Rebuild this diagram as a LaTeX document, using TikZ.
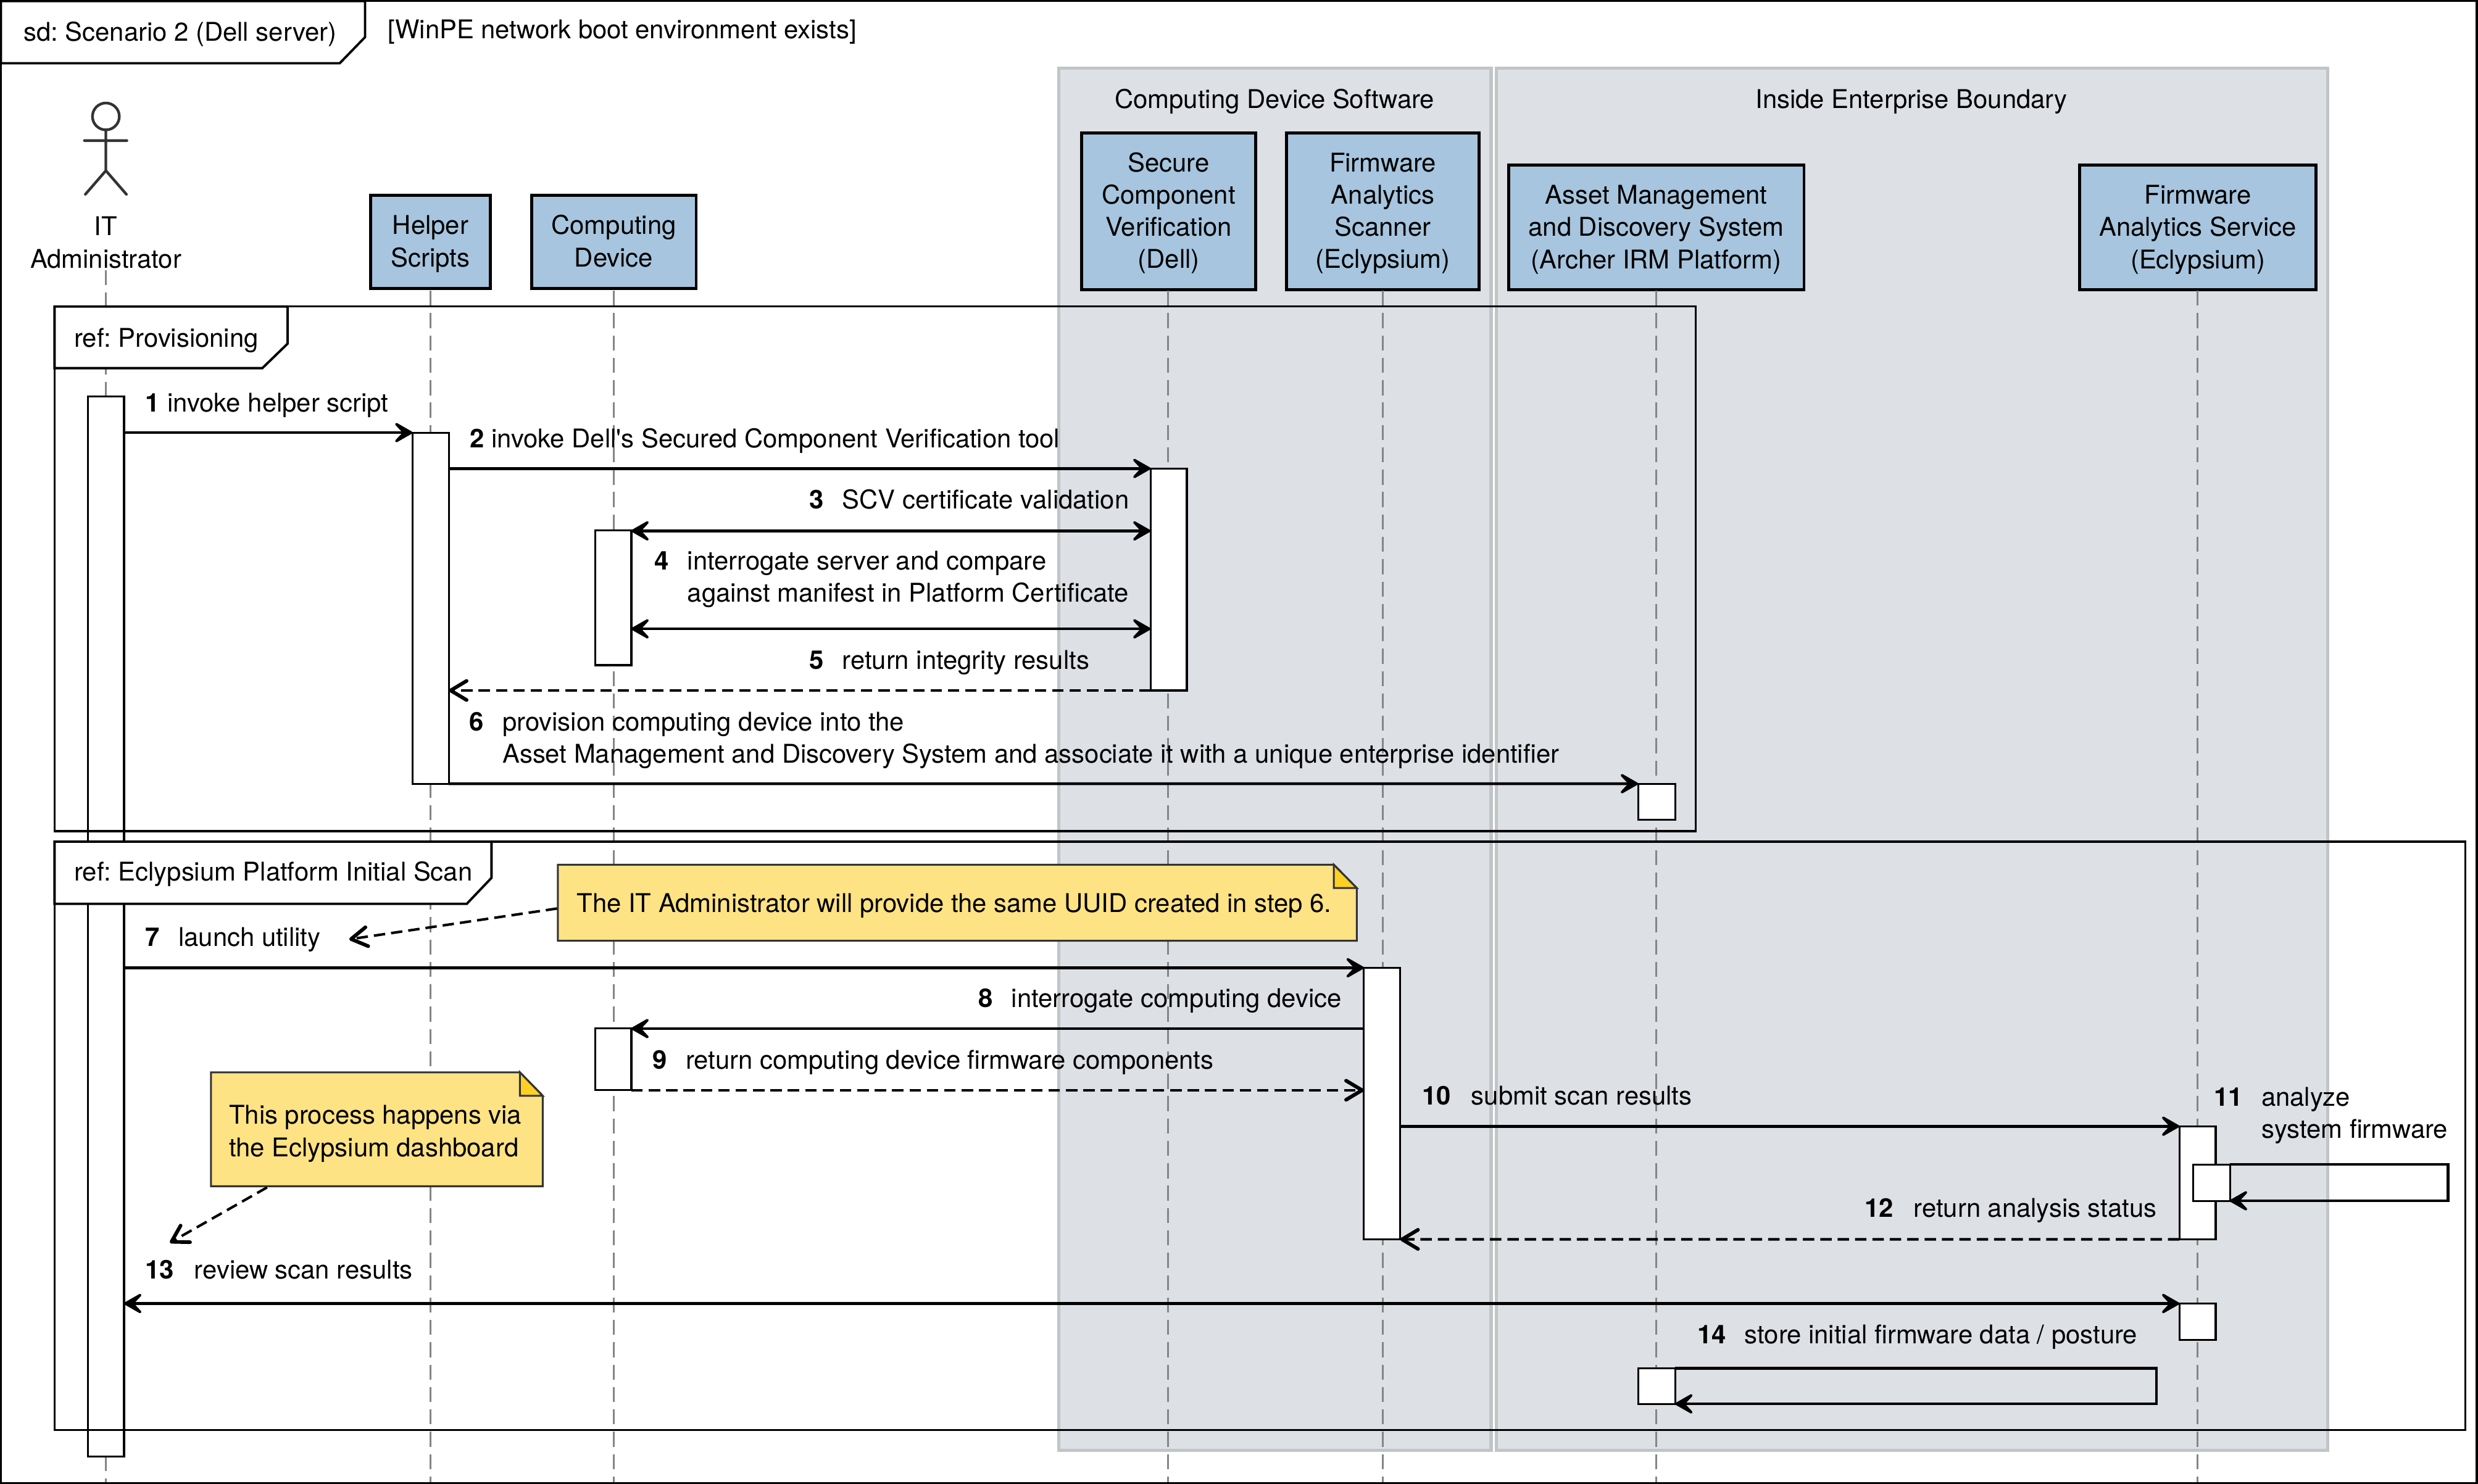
\documentclass[tikz,border=0pt]{standalone}
\usepackage{fontspec}
\setmainfont{TeX Gyre Heros}[Ligatures=TeXOff]
\usetikzlibrary{arrows.meta}
\frenchspacing
\definecolor{groupfill}{HTML}{DDE0E5}
\definecolor{groupline}{HTML}{C2C5C8}
\definecolor{partfill}{HTML}{A7C5DE}
\definecolor{notefill}{HTML}{FEE384}
\definecolor{foldfill}{HTML}{FFD024}
\definecolor{lifegray}{HTML}{858585}
\tikzset{
  x=1pt,y=-1pt,
  every node/.style={font=\fontsize{16.33}{20.4}\selectfont,inner sep=0pt,outer sep=0pt},
  groupbox/.style={draw=groupline,fill=groupfill,line width=2pt},
  partbox/.style={draw=black,fill=partfill,line width=1.9pt,align=center},
  actbox/.style={draw=black,fill=white,line width=1.2pt},
  lifeline/.style={draw=lifegray,line width=1.2pt,dash pattern=on 9.5pt off 4.66pt},
  framebox/.style={draw=black,line width=1.3pt},
  tabshape/.style={draw=black,fill=white,line width=1.5pt,line join=miter},
  txt/.style={anchor=base west,align=left},
  ctxt/.style={anchor=base,align=center},
  heavyhead/.tip={Stealth[length=15.1pt,width=17.2pt,inset=8pt,round,line width=1.6pt]},
  openhead/.tip={Straight Barb[length=10.1pt,width=12.1pt,round,line width=2.3pt]},
  msg/.style={draw=black,line width=1.8pt,-heavyhead},
  msgboth/.style={draw=black,line width=1.8pt,heavyhead-heavyhead},
  ret/.style={draw=black,line width=1.7pt,dash pattern=on 7.2pt off 3.8pt,-openhead},
  notebox/.style={draw=black!80,fill=notefill,line width=1.2pt,line join=miter},
  foldbox/.style={draw=black!80,fill=foldfill,line width=1.2pt,line join=miter},
  noteline/.style={draw=black,line width=1.6pt,dash pattern=on 7.2pt off 3.8pt,-openhead},
  stick/.style={draw=black!80,line width=1.7pt,line cap=round},
}
% name, x1, y1, x2, y2, style, text
\newcommand\rectnode[7]{%
  \pgfmathsetmacro\rw{#4-#2}\pgfmathsetmacro\rh{#5-#3}%
  \pgfmathsetmacro\rcx{(#4+#2)/2}\pgfmathsetmacro\rcy{(#5+#3)/2}%
  \node[#6,minimum width=\rw pt,minimum height=\rh pt] (#1) at (\rcx,\rcy) {#7};}
% name, x, gap to text, baseline y, number, text
\newcommand\msglabel[6]{\node[txt] (#1) at (#2,#4) {\makebox[#3pt][l]{\textbf{#5}}#6};}
\newcommand\twolines[2]{\begin{tabular}[t]{@{}l@{}}#1\\#2\end{tabular}}
\newcommand\parttop{\rule{0pt}{15pt}}
\newcommand\partbot{\rule[-4pt]{0pt}{4pt}}
\begin{document}
\begin{tikzpicture}
\useasboundingbox (0,0) rectangle (1568,939.2);
\fill[white] (0,0) rectangle (1568,939.2);
% groups
\rectnode{gcds}{670}{43}{943.5}{918}{groupbox}{}
\rectnode{gieb}{947}{43}{1473}{918}{groupbox}{}
\node[ctxt] (gcdsl) at (806.5,68.5) {Computing Device Software};
\node[ctxt] (giebl) at (1209.5,68.5) {Inside Enterprise Boundary};
% participants
\rectnode{ph}{234.5}{123.5}{310.3}{182.7}{partbox}{\parttop Helper\\Scripts\partbot}
\rectnode{pc}{336.3}{123.5}{440.5}{182.7}{partbox}{\parttop Computing\\Device\partbot}
\rectnode{ps}{684.5}{84}{794.5}{183.5}{partbox}{\parttop Secure\\Component\\Verification\\(Dell)\partbot}
\rectnode{pf}{814}{84}{936}{183.5}{partbox}{\parttop Firmware\\Analytics\\Scanner\\(Eclypsium)\partbot}
\rectnode{pa}{954.5}{104.5}{1141.5}{183.5}{partbox}{\parttop Asset Management\\and Discovery System\\(Archer IRM Platform)\partbot}
\rectnode{pe}{1316}{104.5}{1465.5}{183.5}{partbox}{\parttop Firmware\\Analytics Service\\(Eclypsium)\partbot}
% actor
\coordinate (ahead) at (67,73.7);
\coordinate (aneck) at (67,82.2);
\coordinate (ahip) at (67,108);
\coordinate (aarml) at (53.4,89);
\coordinate (aarmr) at (80.3,89);
\coordinate (alegl) at (54,123);
\coordinate (alegr) at (80,123);
\draw[stick] (ahead) circle[radius=8.5];
\draw[stick] (aneck) -- (ahip) (aarml) -- (aarmr) (alegl) -- (ahip) -- (alegr);
\node[ctxt] (actorl) at (67,169.5) {IT\\Administrator};
% lifelines
\coordinate (lae) at (67,938);
\coordinate (las) at (67,171);
\draw[lifeline] (las) -- (lae);
\foreach \nm/\lx in {ph/272.4,pc/388.4,ps/739,pf/875,pa/1048,pe/1390.4}{
  \coordinate (ls\nm) at (\lx,184);
  \coordinate (le\nm) at (\lx,938);
  \draw[lifeline] (ls\nm) -- (le\nm);
}
% activation bars
\rectnode{ba}{55.5}{251}{78.5}{922}{actbox}{}
\rectnode{bh}{261}{273.8}{284}{496}{actbox}{}
\rectnode{bs}{728}{296.5}{751}{437}{actbox}{}
\rectnode{bc}{376.5}{335.5}{399.5}{421}{actbox}{}
\rectnode{bap}{1036.5}{496}{1060}{519}{actbox}{}
\rectnode{bf}{863}{612.5}{886}{784.4}{actbox}{}
\rectnode{bct}{376.5}{651}{399.5}{690}{actbox}{}
\rectnode{be}{1379}{712.8}{1402}{784.4}{actbox}{}
\rectnode{ben}{1387.6}{737}{1411}{760}{actbox}{}
\rectnode{bet}{1379}{825}{1402}{848}{actbox}{}
\rectnode{bat}{1036.5}{866}{1060}{888.5}{actbox}{}
% frame
\draw[black,line width=1.4pt] (0.6,0.5) rectangle (1567.3,938.6);
\draw[tabshape] (0.6,0.7) -- (231,0.7) -- (231,23.5) -- (215,40) -- (0.6,40) -- cycle;
\node[txt] (tsd) at (15,26) {sd: Scenario 2 (Dell server)};
\node[txt] (tcond) at (245.5,24.5) {[WinPE network boot environment exists]};
% ref frames
\rectnode{rp}{34.5}{194}{1073}{526}{framebox}{}
\draw[tabshape] (rp.north west) -- (182,194) -- (182,217.5) -- (166,233) -- (34.5,233) -- cycle;
\node[txt] (rpl) at (47,219.5) {ref: Provisioning};
\rectnode{re}{34.5}{532.7}{1560}{905}{framebox}{}
\draw[tabshape] (re.north west) -- (311,532.7) -- (311,555.6) -- (295.4,572) -- (34.5,572) -- cycle;
\node[txt] (rel) at (47,557.5) {ref: Eclypsium Platform Initial Scan};
% notes
\draw[notebox] (353,547.3) -- (844,547.3) -- (858.5,562) -- (858.5,595.4) -- (353,595.4) -- cycle;
\draw[foldbox] (844,547.3) -- (844,562) -- (858.5,562) -- cycle;
\node[txt] (nt1) at (365,577.5) {The IT Administrator will provide the same UUID created in step 6.};
\draw[notebox] (133.5,678.7) -- (329,678.7) -- (343.4,693.5) -- (343.4,750.8) -- (133.5,750.8) -- cycle;
\draw[foldbox] (329,678.7) -- (329,693.5) -- (343.4,693.5) -- cycle;
\node[txt] (nt2) at (145,711.5) {\twolines{This process happens via}{the Eclypsium dashboard}};
\coordinate (n1s) at (352.5,575);
\coordinate (n1e) at (221,594.5);
\coordinate (n2s) at (169,751.5);
\coordinate (n2e) at (107.5,786.5);
\draw[noteline] (n1s) -- (n1e);
\draw[noteline] (n2s) -- (n2e);
% messages
\draw[msg] (ba.east |- bh.north) -- (bh.north west);
\draw[msg] (bh.east |- bs.north) -- (bs.north west);
\coordinate (m3) at (739,336);
\draw[msgboth] (bc.north east) ++(0,0.5) -- (bs.west |- m3);
\coordinate (m4) at (739,398);
\draw[msgboth] (bc.east |- m4) -- (bs.west |- m4);
\draw[ret] (bs.south west) -- (bh.east |- bs.south);
\draw[msg] (bh.south east) -- (bap.north west);
\draw[msg] (ba.east |- bf.north) -- (bf.north west);
\draw[msg] (bf.west |- bct.north) -- (bct.north east);
\draw[ret] (bct.south east) -- (bf.west |- bct.south);
\draw[msg] (bf.east |- be.north) -- (be.north west);
\draw[msg] (ben.north east) -- (1549,737) -- (1549,760) -- (ben.south east);
\draw[ret] (be.south west) -- (bf.south east);
\draw[msgboth] (ba.east |- bet.north) -- (bet.north west);
\draw[msg] (bat.north east) -- (1364.5,866) -- (1364.5,888.5) -- (bat.south east);
% labels
\msglabel{l1}{92}{14}{260.5}{1}{invoke helper script}
\msglabel{l2}{297.5}{13.5}{283.5}{2}{invoke Dell's Secured Component Verification tool}
\msglabel{l3}{512}{21}{321.8}{3}{SCV certificate validation}
\msglabel{l4}{414}{21}{360.5}{4}{\twolines{interrogate server and compare}{against manifest in Platform Certificate}}
\msglabel{l5}{512}{21}{423.5}{5}{return integrity results}
\msglabel{l6}{297}{21}{462.5}{6}{\twolines{provision computing device into the}{Asset Management and Discovery System and associate it with a unique enterprise identifier}}
\msglabel{l7}{92}{21}{598.8}{7}{launch utility}
\msglabel{l8}{619}{21}{637.5}{8}{interrogate computing device}
\msglabel{l9}{413}{21}{676.5}{9}{return computing device firmware components}
\msglabel{l10}{900}{31}{699.3}{10}{submit scan results}
\msglabel{l11}{1401}{30}{700}{11}{\twolines{analyze}{system firmware}}
\msglabel{l12}{1180}{31}{770.5}{12}{return analysis status}
\msglabel{l13}{92}{31}{809.5}{13}{review scan results}
\msglabel{l14}{1074}{30}{850.5}{14}{store initial firmware data / posture}
\end{tikzpicture}
\end{document}
